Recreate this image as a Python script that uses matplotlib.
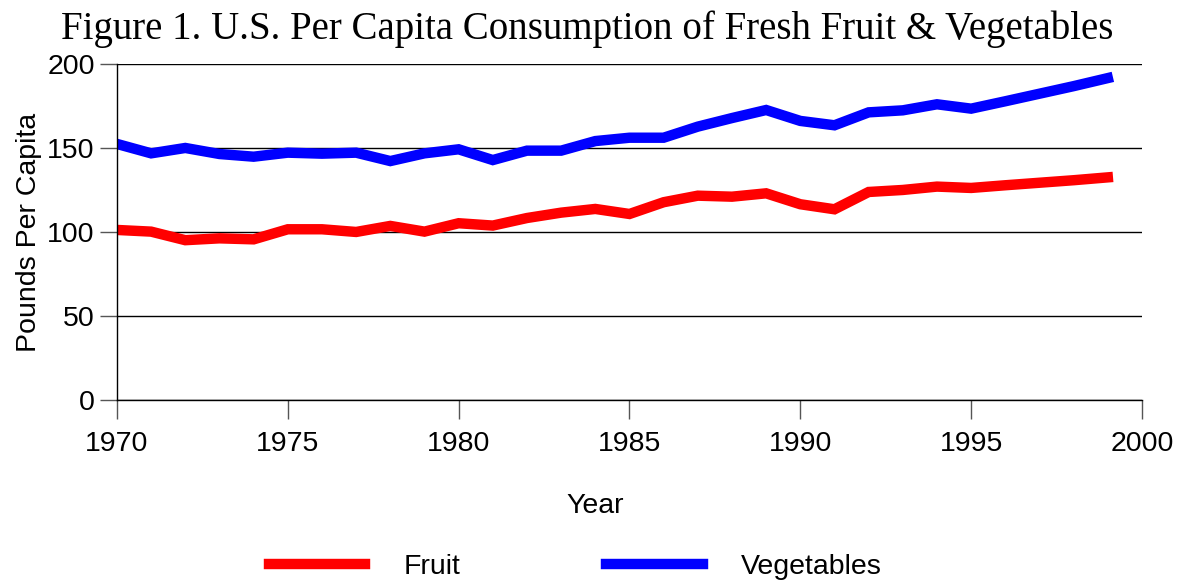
import matplotlib.pyplot as plt

# --- Data ---
years = list(range(1970, 2000))
fruit = [101.4, 100.4, 95.3, 96.4, 95.8, 101.8, 101.8, 100.2, 103.8, 100.4,
         105.4, 104.0, 108.5, 111.7, 113.9, 110.9, 117.9, 121.8, 121.2, 123.2,
         116.7, 113.7, 124.0, 125.2, 127.2, 126.4, 128.0, 129.5, 131.0, 132.7]
vegetables = [152.6, 147.0, 150.2, 146.6, 145.0, 147.4, 146.8, 147.4, 142.4, 147.0,
              149.4, 143.0, 148.6, 148.6, 154.3, 156.3, 156.3, 162.9, 168.0, 172.8,
              166.3, 163.7, 171.4, 172.6, 176.2, 173.6, 178.0, 182.5, 187.0, 191.8]
x_ticks = [1970, 1975, 1980, 1985, 1990, 1995, 2000]
y_ticks = [0, 50, 100, 150, 200]

SANS = 'Liberation Sans'
SERIF = 'Liberation Serif'

fig = plt.figure(figsize=(11.79, 5.83), dpi=100)
ax = fig.add_axes([0.0992, 0.3134, 0.8694, 0.5763])

ax.plot(years, fruit, color='#ff0000', lw=7.5, label='Fruit', solid_joinstyle='miter')
ax.plot(years, vegetables, color='#0000ff', lw=7.5, label='Vegetables', solid_joinstyle='miter')

ax.set_xlim(1970, 2000)
ax.set_ylim(0, 200)
ax.set_xticks(x_ticks)
ax.set_yticks(y_ticks)

# horizontal grid lines only
ax.yaxis.grid(True, color='black', lw=1.0)
ax.set_axisbelow(True)
for side in ['top', 'right']:
    ax.spines[side].set_visible(False)
ax.spines['left'].set_linewidth(1.0)
ax.spines['bottom'].set_linewidth(1.0)

ax.tick_params(axis='x', direction='out', length=14, width=1, color='#555555', pad=8)
ax.tick_params(axis='y', direction='out', length=12, width=1, color='#555555', pad=4)
for lbl in ax.get_xticklabels() + ax.get_yticklabels():
    lbl.set_fontfamily(SANS)
    lbl.set_fontsize(20.5)

ax.set_xlabel('Year', fontfamily=SANS, fontsize=20.5, labelpad=26)
ax.xaxis.label.set_x(0.467)
ax.set_ylabel('Pounds Per Capita', fontfamily=SANS, fontsize=20.5, labelpad=4)

fig.suptitle('Figure 1. U.S. Per Capita Consumption of Fresh Fruit & Vegetables',
             fontfamily=SERIF, fontsize=28, x=0.498, y=0.982)

fig.legend(loc='center', bbox_to_anchor=(0.488, 0.028), ncol=2, frameon=False,
           prop={'family': SANS, 'size': 20.5}, handlelength=3.4,
           handletextpad=1.35, columnspacing=5.1)

fig.savefig('out.png', dpi=100)
